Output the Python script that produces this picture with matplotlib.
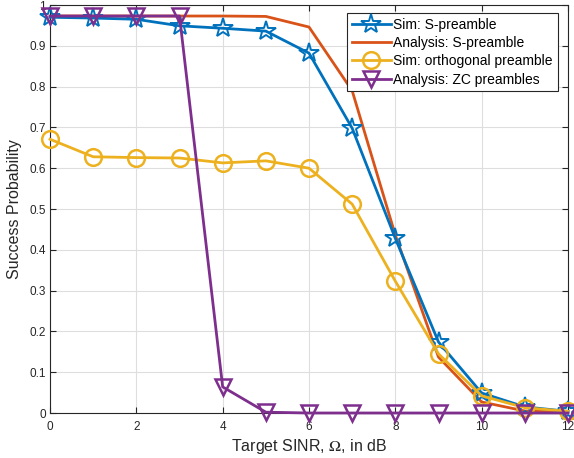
import numpy as np
from matplotlib import pyplot as plt

plt.rcParams['font.family'] = ['Liberation Sans', 'DejaVu Sans']
plt.rcParams['mathtext.fontset'] = 'stix'

# Target SINR values (dB)
sinr_db = [0, 1, 2, 3, 4, 5, 6, 7, 8, 9, 10, 11, 12]

sim_s_preamble = [0.970, 0.968, 0.965, 0.949, 0.943, 0.936, 0.882, 0.698, 0.428, 0.174, 0.049, 0.015, 0.004]
ana_s_preamble = [0.973, 0.973, 0.973, 0.973, 0.973, 0.972, 0.946, 0.790, 0.436, 0.137, 0.027, 0.005, 0.002]
sim_orthogonal = [0.671, 0.628, 0.626, 0.625, 0.613, 0.618, 0.600, 0.512, 0.323, 0.145, 0.042, 0.013, 0.004]
ana_zc = [0.973, 0.973, 0.973, 0.973, 0.064, 0.002, 0.0, 0.0, 0.0, 0.0, 0.0, 0.0, 0.0]

labels = ["Sim: S-preamble", "Analysis: S-preamble", "Sim: orthogonal preamble", "Analysis: ZC preambles"]

fig = plt.figure(figsize=(5.74, 4.58), dpi=100)
ax = fig.add_axes([50/574, 45/458, 518/574, 408/458])

lw = 2.0
ax.plot(sinr_db, sim_s_preamble, color="#0072BD", lw=lw, marker="*", ms=15,
        mfc="none", mew=1.4, label=labels[0], clip_on=False, zorder=3)
ax.plot(sinr_db, ana_s_preamble, color="#D95319", lw=lw, label=labels[1], zorder=2)
ax.plot(sinr_db, sim_orthogonal, color="#EDB120", lw=lw, marker="o", ms=12,
        mfc="none", mew=1.8, label=labels[2], clip_on=False, zorder=4)
ax.plot(sinr_db, ana_zc, color="#7E2F8E", lw=lw, marker="v", ms=12,
        mfc="none", mew=1.8, label=labels[3], clip_on=False, zorder=5)

ax.set_xlim(0, 12)
ax.set_ylim(0, 1)
ax.set_xticks(np.arange(0, 13, 2))
ax.set_yticks(np.arange(0, 1.01, 0.1))
ax.set_yticklabels(["0", "0.1", "0.2", "0.3", "0.4", "0.5", "0.6", "0.7", "0.8", "0.9", "1"])
ax.tick_params(direction="in", top=True, right=True, labelsize=8.5, colors="#262626", length=4)
ax.tick_params(axis="x", pad=6)
ax.tick_params(axis="y", pad=3)
ax.grid(True, color="#dedede", lw=0.8)
ax.set_axisbelow(True)
for sp in ax.spines.values():
    sp.set_color("#262626")
    sp.set_linewidth(0.8)

ax.set_xlabel(r"Target SINR, $\Omega$, in dB", fontsize=11.5, color="#262626", labelpad=3)
ax.set_ylabel("Success Probability", fontsize=11.5, color="#262626", labelpad=5)

leg = ax.legend(loc="upper right", bbox_to_anchor=(0.98, 0.98), fontsize=10, handlelength=2.8,
                fancybox=False, framealpha=1, edgecolor="#262626", borderpad=0.35,
                labelspacing=0.3, handletextpad=0.2, borderaxespad=0)
leg.get_frame().set_linewidth(0.8)

plt.savefig("out.png", dpi=100)
